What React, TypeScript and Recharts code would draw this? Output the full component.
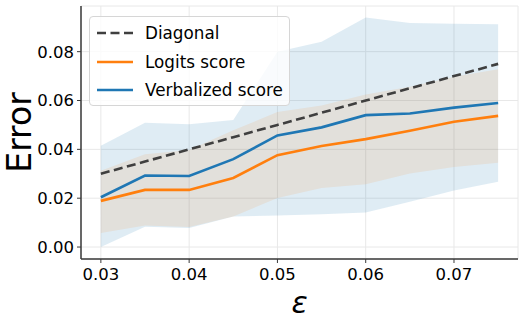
import { ComposedChart, Line, Area, XAxis, YAxis, CartesianGrid, Legend } from "recharts";

const epsilon = [0.03, 0.035, 0.04, 0.045, 0.05, 0.055, 0.06, 0.065, 0.07, 0.075];
const diagonal = [0.03, 0.035, 0.04, 0.045, 0.05, 0.055, 0.06, 0.065, 0.07, 0.075];
const logitsScore = [0.0189, 0.0234, 0.0234, 0.0283, 0.0376, 0.0414, 0.0442, 0.0476, 0.0513, 0.0537];
const logitsLow = [0.0057, 0.0088, 0.0082, 0.0125, 0.0201, 0.0242, 0.0257, 0.0301, 0.0328, 0.0345];
const logitsHigh = [0.0312, 0.038, 0.0397, 0.0478, 0.0553, 0.058, 0.0625, 0.0656, 0.0697, 0.0728];
const verbalizedScore = [0.0204, 0.0293, 0.0291, 0.036, 0.0457, 0.049, 0.054, 0.0547, 0.0571, 0.059];
const verbalizedLow = [0.0, 0.0083, 0.0078, 0.0125, 0.0129, 0.0134, 0.0141, 0.0185, 0.0231, 0.0267];
const verbalizedHigh = [0.0415, 0.0509, 0.0503, 0.052, 0.08, 0.0841, 0.094, 0.0917, 0.0914, 0.0912];

const xTicks = [0.03, 0.04, 0.05, 0.06, 0.07];
const yTicks = [0, 0.02, 0.04, 0.06, 0.08];

const legendItems = [
  { name: "Diagonal", color: "#3f3f3f", dash: "9 4.5" },
  { name: "Logits score", color: "#ff7f0e", dash: undefined },
  { name: "Verbalized score", color: "#1f77b4", dash: undefined },
];

const data = epsilon.map((eps, i) => ({
  eps,
  diagonal: diagonal[i],
  logits: logitsScore[i],
  verbalized: verbalizedScore[i],
  logitsBand: [logitsLow[i], logitsHigh[i]],
  verbalizedBand: [verbalizedLow[i], verbalizedHigh[i]],
}));

const font = "DejaVu Sans";
const spine = "#3a3a3a";

function ErrorLabel({ viewBox }: any) {
  const cy = viewBox.y + viewBox.height / 2;
  return (
    <text
      x={31}
      y={cy}
      transform={`rotate(-90, 31, ${cy})`}
      textAnchor="middle"
      fontSize={33}
      fontFamily={font}
      fill="#000"
    >
      Error
    </text>
  );
}

function EpsLabel({ viewBox }: any) {
  const cx = viewBox.x + viewBox.width / 2;
  return (
    <text x={cx} y={313} textAnchor="middle" fontSize={30} fontStyle="italic" fontFamily={font} fill="#000">
      ε
    </text>
  );
}

function LegendBox() {
  return (
    <div
      style={{
        width: 201,
        height: 90,
        boxSizing: "border-box",
        border: "1px solid #d6d6d6",
        borderRadius: 4,
        background: "rgba(255,255,255,0.8)",
        position: "relative",
        fontFamily: font,
        fontSize: 16.8,
      }}
    >
      {legendItems.map((item, i) => (
        <div key={item.name} style={{ position: "absolute", left: 0, top: 4 + i * 28.5, height: 24, width: 200 }}>
          <svg width={50} height={24} style={{ position: "absolute", left: 0, top: 0 }}>
            <line x1={7} x2={43} y1={12} y2={12} stroke={item.color} strokeWidth={2.6} strokeDasharray={item.dash} />
          </svg>
          <span style={{ position: "absolute", left: 55, top: 1, lineHeight: "22px", color: "#000" }}>{item.name}</span>
        </div>
      ))}
    </div>
  );
}

export default function App() {
  return (
    <div style={{ position: "absolute", left: 0, top: 0, background: "#fff" }}>
      <ComposedChart width={523} height={327} data={data} margin={{ top: 6, right: 5, bottom: 0, left: 0 }}>
        <CartesianGrid stroke="#e8e8e8" strokeWidth={1} />
        <XAxis
          dataKey="eps"
          type="number"
          domain={[0.02775, 0.07725]}
          allowDataOverflow
          ticks={xTicks}
          tickFormatter={(v: number) => v.toFixed(2)}
          tick={{ fontSize: 16.5, fill: "#000", fontFamily: font }}
          tickSize={4}
          tickMargin={5}
          height={68}
          axisLine={{ stroke: spine, strokeWidth: 1.5 }}
          tickLine={{ stroke: spine }}
          label={<EpsLabel />}
        />
        <XAxis xAxisId="top" orientation="top" type="number" domain={[0, 1]} tick={false} tickLine={false} height={0} axisLine={{ stroke: spine, strokeWidth: 1.5 }} />
        <YAxis
          type="number"
          domain={[-0.0049, 0.0987]}
          allowDataOverflow
          ticks={yTicks}
          tickFormatter={(v: number) => v.toFixed(2)}
          tick={{ fontSize: 16.5, fill: "#000", fontFamily: font }}
          tickSize={4}
          tickMargin={3}
          width={81}
          axisLine={{ stroke: spine, strokeWidth: 1.5 }}
          tickLine={{ stroke: spine }}
          label={<ErrorLabel />}
        />
        <YAxis yAxisId="right" orientation="right" type="number" domain={[0, 1]} tick={false} tickLine={false} width={0} axisLine={{ stroke: spine, strokeWidth: 1.5 }} />
        <Area dataKey="verbalizedBand" type="linear" stroke="none" fill="#1f77b4" fillOpacity={0.14} isAnimationActive={false} legendType="none" />
        <Area dataKey="logitsBand" type="linear" stroke="none" fill="#ff7f0e" fillOpacity={0.11} isAnimationActive={false} legendType="none" />
        <Line dataKey="diagonal" type="linear" stroke="#3f3f3f" strokeWidth={2.6} strokeDasharray="9 4.5" dot={false} isAnimationActive={false} />
        <Line dataKey="logits" type="linear" stroke="#ff7f0e" strokeWidth={2.6} dot={false} isAnimationActive={false} />
        <Line dataKey="verbalized" type="linear" stroke="#1f77b4" strokeWidth={2.6} dot={false} isAnimationActive={false} />
        <Legend
          layout="vertical"
          align="center"
          verticalAlign="middle"
          content={<LegendBox />}
          wrapperStyle={{ left: 89, top: 16, width: 201, height: 90 }}
        />
      </ComposedChart>
    </div>
  );
}
